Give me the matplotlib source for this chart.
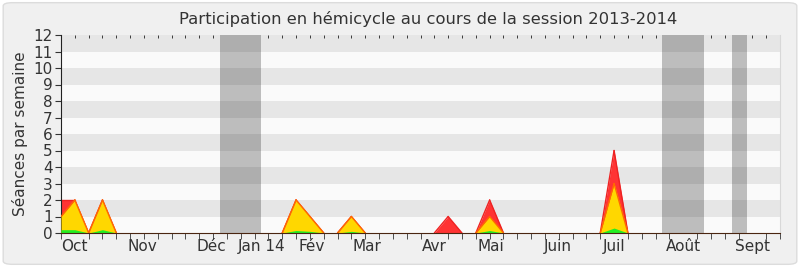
import matplotlib
matplotlib.use("Agg")
import matplotlib.pyplot as plt
from matplotlib.patches import FancyBboxPatch
import numpy as np

# Weekly data, week index 0..52 (session Oct 2013 - Sept 2014)
n_weeks = 53
total_weeks = {0: 2, 1: 2, 3: 2, 17: 2, 18: 1, 21: 1, 28: 1, 31: 2, 40: 5}
yellow_weeks = {0: 1, 1: 2, 3: 2, 17: 2, 18: 1, 21: 1, 31: 1, 40: 3}
green_weeks = {0: 0.2, 1: 0.2, 3: 0.2, 17: 0.15, 18: 0.1, 21: 0.1, 31: 0.15, 40: 0.3}

month_labels = ["Oct", "Nov", "Déc", "Jan 14", "Fév", "Mar", "Avr", "Mai",
                "Juin", "Juil", "Août", "Sept"]
month_positions = [1, 5.9, 10.9, 14.5, 18.1, 22.1, 27, 31.1, 35.9, 40, 45, 50]
vacation_bands = [(11.5, 14.5), (43.5, 46.5), (48.5, 49.6)]

weeks = np.arange(n_weeks)
total = np.array([total_weeks.get(i, 0) for i in weeks], dtype=float)
yellow = np.array([yellow_weeks.get(i, 0) for i in weeks], dtype=float)
green = np.array([green_weeks.get(i, 0) for i in weeks], dtype=float)


def edge_line(ax, vals, color, z):
    # draw only segments that touch a nonzero value
    for i in range(len(vals) - 1):
        if vals[i] != 0 or vals[i + 1] != 0:
            ax.plot(weeks[i:i + 2], vals[i:i + 2], color=color, lw=1, zorder=z,
                    solid_capstyle="round")


fig = plt.figure(figsize=(8, 2.67), dpi=100)
fig.patch.set_facecolor("white")
bg = FancyBboxPatch((0.004, 0.01), 0.992, 0.98, boxstyle="round,pad=0,rounding_size=0.012",
                    transform=fig.transFigure, facecolor="#f0f0f0", edgecolor="#dcdcdc",
                    linewidth=1, zorder=-10)
fig.patches.append(bg)

ax = fig.add_axes([61 / 800, 34 / 267, 719 / 800, 198 / 267])
ax.set_facecolor("#fafafa")
ax.set_xlim(0, n_weeks - 1)
ax.set_ylim(0, 12)

for a, b in vacation_bands:
    ax.axvspan(a, b, color="#bdbdbd", zorder=0.5, lw=0)
for y in range(1, 12, 2):
    ax.axhspan(y, y + 1, color="black", alpha=0.08, zorder=0.6, lw=0)

ax.fill_between(weeks, 0, total, color="#ff3333", lw=0, zorder=2)
edge_line(ax, total, "#ee2222", 2.1)
ax.fill_between(weeks, 0, yellow, color="#ffd700", lw=0, zorder=3)
edge_line(ax, yellow, "#ff6a00", 3.1)
ax.fill_between(weeks, 0, green, color="#22ee22", lw=0, zorder=4)

ax.set_yticks(range(0, 13))
ax.tick_params(axis="y", direction="out", length=4, labelsize=11, colors="#333333", pad=2)
ax.set_xticks(month_positions)
ax.set_xticklabels(month_labels)
ax.set_xticks(weeks, minor=True)
ax.tick_params(axis="x", which="major", length=0, labelsize=11, colors="#333333", pad=4)
ax.tick_params(axis="x", which="minor", direction="out", length=4, color="#333333")

top = ax.secondary_xaxis("top")
top.set_xticks([])
top.set_xticks(weeks, minor=True)
top.tick_params(which="minor", direction="in", length=2, color="#222222")
top.spines["top"].set_visible(False)

ax.spines["top"].set_visible(False)
ax.spines["right"].set_color("#d8d8d8")
ax.spines["bottom"].set_color("#4a2510")
ax.spines["bottom"].set_zorder(5)
ax.spines["left"].set_color("#222222")

ax.set_ylabel("Séances par semaine", fontsize=11, color="#333333", labelpad=4)
fig.text(428 / 800, 0.93, "Participation en hémicycle au cours de la session 2013-2014",
         ha="center", va="center", fontsize=11.8, color="#333333")

fig.savefig("out.png", dpi=100, facecolor=fig.get_facecolor())
